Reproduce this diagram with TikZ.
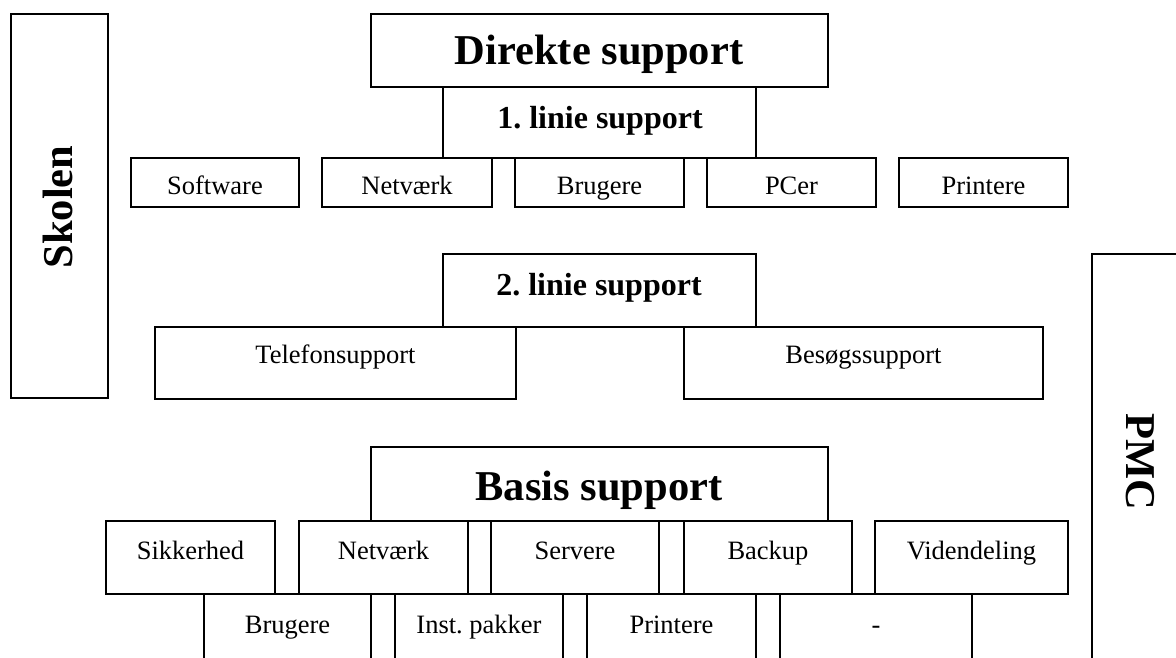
\documentclass[tikz,border=0pt]{standalone}
\usepackage{fontspec}
\setmainfont{Liberation Serif}
\frenchspacing
\begin{document}
\begin{tikzpicture}[x=1pt,y=-1pt,
  bx/.style={draw=black,fill=white,line width=1.3pt},
  big/.style={font=\bfseries\fontsize{42.5}{50}\selectfont,inner sep=0pt,anchor=base},
  mid/.style={font=\bfseries\fontsize{32}{38}\selectfont,inner sep=0pt,anchor=base},
  sml/.style={font=\fontsize{26.5}{32}\selectfont,inner sep=0pt,anchor=base}]
\useasboundingbox (0,0) rectangle (1176,657);
\clip (0,0) rectangle (1176,657);
% side boxes
\draw[bx] (11,14) rectangle (108,398);
\node[big,rotate=90] (skolen) at (72,207) {Skolen};
\draw[bx] (1092,254) rectangle (1200,700);
\node[big,rotate=-90] (pmc) at (1126,462) {PMC};
% direct support
\draw[bx] (371,14) rectangle (828,87);
\node[big] (direkte) at (599,64) {Direkte support};
\draw[bx] (443,87) rectangle (756,158);
\node[mid] (l1) at (600,128) {1. linie support};
\draw[bx] (131,158) rectangle (299,207);
\node[sml] (sw) at (215,194) {Software};
\draw[bx] (322,158) rectangle (492,207);
\node[sml] (nw1) at (407,194) {Netværk};
\draw[bx] (515,158) rectangle (684,207);
\node[sml] (br1) at (599.5,194) {Brugere};
\draw[bx] (707,158) rectangle (876,207);
\node[sml] (pc) at (791.5,194) {PCer};
\draw[bx] (899,158) rectangle (1068,207);
\node[sml] (pr1) at (983.5,194) {Printere};
% 2nd line
\draw[bx] (443,254) rectangle (756,327);
\node[mid] (l2) at (599,295) {2. linie support};
\draw[bx] (155,327) rectangle (516,399);
\node[sml] (tel) at (335.5,363) {Telefonsupport};
\draw[bx] (684,327) rectangle (1043,399);
\node[sml] (bes) at (863.5,363) {Besøgssupport};
% basis support
\draw[bx] (371,447) rectangle (828,521);
\node[big] (basis) at (599,500) {Basis support};
\draw[bx] (204,594) rectangle (371,700);
\node[sml] (br2) at (287.5,633.5) {Brugere};
\draw[bx] (395,594) rectangle (563,700);
\node[sml] (inst) at (479,633.5) {Inst. pakker};
\draw[bx] (587,594) rectangle (756,700);
\node[sml] (pr2) at (671.5,633.5) {Printere};
\draw[bx] (780,594) rectangle (972,700);
\node[sml] (dash) at (876,633.5) {-};
\draw[bx] (106,521) rectangle (275,594);
\node[sml] (sik) at (190.5,559.5) {Sikkerhed};
\draw[bx] (299,521) rectangle (468,594);
\node[sml] (nw2) at (383.5,559.5) {Netværk};
\draw[bx] (491,521) rectangle (659,594);
\node[sml] (srv) at (575,559.5) {Servere};
\draw[bx] (684,521) rectangle (852,594);
\node[sml] (bak) at (768,559.5) {Backup};
\draw[bx] (875,521) rectangle (1068,594);
\node[sml] (vid) at (971.5,559.5) {Videndeling};
\end{tikzpicture}
\end{document}
